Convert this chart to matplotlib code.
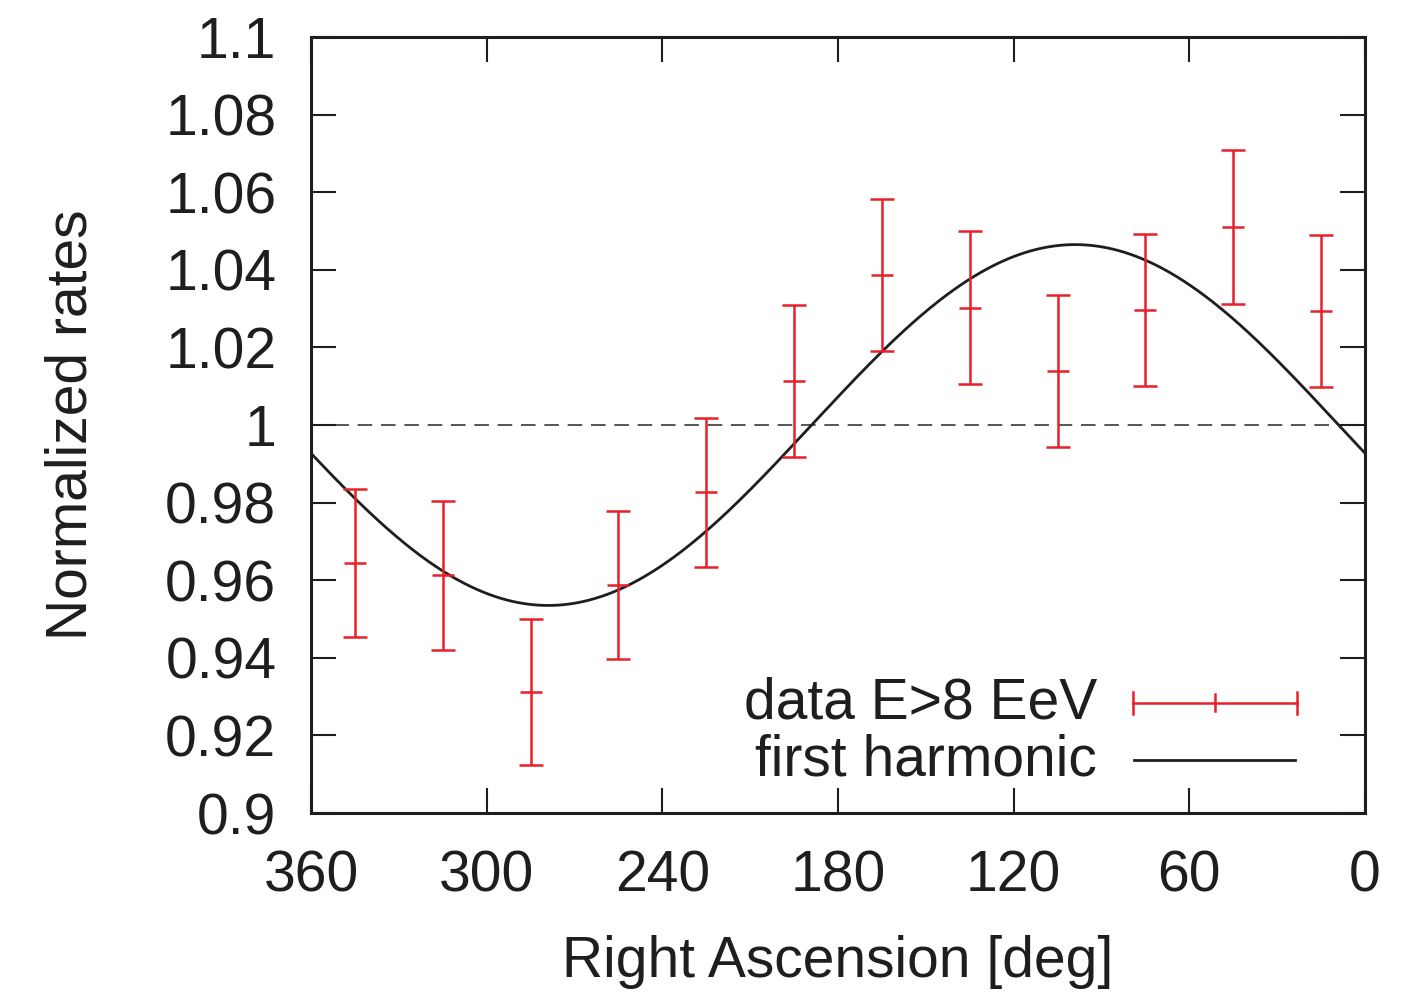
import numpy as np
import matplotlib.pyplot as plt

plt.rcParams['font.family'] = ['Liberation Sans', 'DejaVu Sans']

# binned rates in right ascension (30 deg bins)
ra = [345, 315, 285, 255, 225, 195, 165, 135, 105, 75, 45, 15]
rate = [0.9644, 0.9613, 0.9312, 0.9588, 0.9827, 1.0113, 1.0387, 1.0302,
        1.0139, 1.0296, 1.0510, 1.0294]
rate_err = [0.0190, 0.0192, 0.0188, 0.0190, 0.0192, 0.0196, 0.0196, 0.0197,
            0.0195, 0.0196, 0.0198, 0.0196]

# first harmonic fit: 1 + amp*cos(ra - phase)
amp = 0.0465
phase = 99.0

yticks = [0.9, 0.92, 0.94, 0.96, 0.98, 1.0, 1.02, 1.04, 1.06, 1.08, 1.1]
xticks = [360, 300, 240, 180, 120, 60, 0]

red = '#e8202a'
ink = '#1e1e1e'
fs = 41

fig = plt.figure(figsize=(14.28, 9.92), dpi=100)
ax = fig.add_axes([0.2178, 0.1804, 0.7381, 0.7823])

ax.axhline(1.0, color='#555555', lw=1.4, ls=(0, (7.5, 4.5)), zorder=1)

xs = np.linspace(0, 360, 721)
ax.plot(xs, 1 + amp*np.cos(np.radians(xs - phase)), color=ink, lw=2.0, zorder=2)

ax.errorbar(ra, rate, yerr=rate_err, fmt='_', color=red, ms=16, mew=1.8,
            elinewidth=1.8, capsize=8.5, capthick=1.8, zorder=3)

ax.set_xlim(360, 0)
ax.set_ylim(0.9, 1.1)
ax.set_xticks(xticks)
ax.set_yticks(yticks)
ax.set_yticklabels(['%g' % v for v in yticks])
ax.tick_params(direction='in', length=18, width=1.5, labelsize=fs, top=True, right=True,
               colors=ink, labelcolor=ink)
ax.tick_params(axis='x', pad=26)
ax.tick_params(axis='y', pad=25)
for s in ax.spines.values():
    s.set_linewidth(2.2)
    s.set_color(ink)

ax.set_xlabel('Right Ascension [deg]', fontsize=fs, color=ink)
ax.set_ylabel('Normalized rates', fontsize=fs, color=ink)
ax.xaxis.set_label_coords(0.5, -0.157)
ax.yaxis.set_label_coords(-0.202, 0.5)

# hand-made key in the lower right corner
tr = ax.transAxes
ax.text(0.746, 0.1418, 'data E>8 EeV', transform=tr, ha='right', va='center',
        fontsize=fs, color=ink)
ax.text(0.746, 0.0683, 'first harmonic', transform=tr, ha='right', va='center',
        fontsize=fs, color=ink)
ax.plot([0.780, 0.9355], [0.1418, 0.1418], transform=tr, color=red, lw=1.8)
for xc in (0.780, 0.9355):
    ax.plot([xc, xc], [0.128, 0.156], transform=tr, color=red, lw=1.8)
ax.plot([0.8578, 0.8578], [0.131, 0.153], transform=tr, color=red, lw=1.8)
ax.plot([0.781, 0.934], [0.0683, 0.0683], transform=tr, color=ink, lw=2.0)

fig.savefig('out.png', dpi=100)
